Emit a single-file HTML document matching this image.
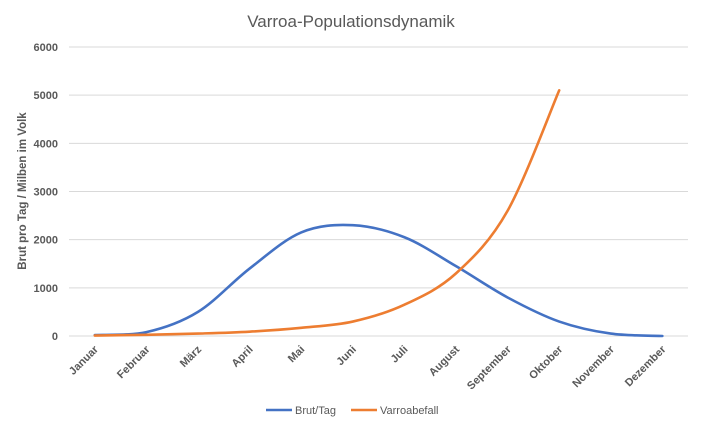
<!DOCTYPE html>
<html><head><meta charset="utf-8"><style>
html,body{margin:0;padding:0;background:#fff;}
svg{display:block;font-family:"Liberation Sans",sans-serif;}
</style></head><body>
<svg id="c" width="702" height="429" viewBox="0 0 702 429" xmlns="http://www.w3.org/2000/svg">
<rect width="702" height="429" fill="#fff"/>
<text x="351" y="27" text-anchor="middle" font-size="17" fill="#595959">Varroa-Populationsdynamik</text>
<g id="grid" stroke="#d9d9d9" stroke-width="1"></g>
<g id="yl" font-size="11" font-weight="bold" fill="#595959" text-anchor="end"></g>
<text transform="translate(26,191) rotate(-90)" text-anchor="middle" font-size="11.5" font-weight="bold" fill="#595959">Brut pro Tag / Milben im Volk</text>
<g id="xl" font-size="11" font-weight="bold" fill="#595959" text-anchor="end"></g>
<path id="b" fill="none" stroke="#4472c4" stroke-width="2.6" stroke-linecap="round"/>
<path id="o" fill="none" stroke="#ed7d31" stroke-width="2.6" stroke-linecap="round"/>
<line x1="266" y1="410" x2="292" y2="410" stroke="#4472c4" stroke-width="2.6"/>
<text x="295" y="414" font-size="11" fill="#595959">Brut/Tag</text>
<line x1="351" y1="410" x2="377" y2="410" stroke="#ed7d31" stroke-width="2.6"/>
<text x="380" y="414" font-size="11" fill="#595959">Varroabefall</text>
</svg>
<script>
var NS="http://www.w3.org/2000/svg";
function Y(v){return 336-v*0.04817;}
function X(i){return 94.8+i*51.6;}
var g=document.getElementById('grid'),yl=document.getElementById('yl'),xl=document.getElementById('xl');
for(var k=0;k<=6;k++){var y=Y(k*1000);var l=document.createElementNS(NS,'line');l.setAttribute('x1',69);l.setAttribute('x2',688);l.setAttribute('y1',y);l.setAttribute('y2',y);g.appendChild(l);
var t=document.createElementNS(NS,'text');t.setAttribute('x',58);t.setAttribute('y',y+4);t.textContent=k*1000;yl.appendChild(t);}
var m=["Januar","Februar","März","April","Mai","Juni","Juli","August","September","Oktober","November","Dezember"];
m.forEach(function(s,i){var t=document.createElementNS(NS,'text');var x=X(i)+4,y=350;t.setAttribute('transform','translate('+x+','+y+') rotate(-45)');t.textContent=s;xl.appendChild(t);});
function path(d){var p=d.map(function(v,i){return [X(i),Y(v)];});var s="M"+p[0][0]+","+p[0][1];
for(var i=0;i<p.length-1;i++){var p0=p[i-1]||p[i],p1=p[i],p2=p[i+1],p3=p[i+2]||p2;var t=1/6;
s+=" C"+(p1[0]+(p2[0]-p0[0])*t)+","+(p1[1]+(p2[1]-p0[1])*t)+" "+(p2[0]-(p3[0]-p1[0])*t)+","+(p2[1]-(p3[1]-p1[1])*t)+" "+p2[0]+","+p2[1];}return s;}
document.getElementById('b').setAttribute('d',path([20,80,500,1400,2150,2300,2050,1450,800,300,50,0]));
document.getElementById('o').setAttribute('d',path([10,25,50,90,170,300,650,1300,2600,5100]));
</script>
</body></html>
